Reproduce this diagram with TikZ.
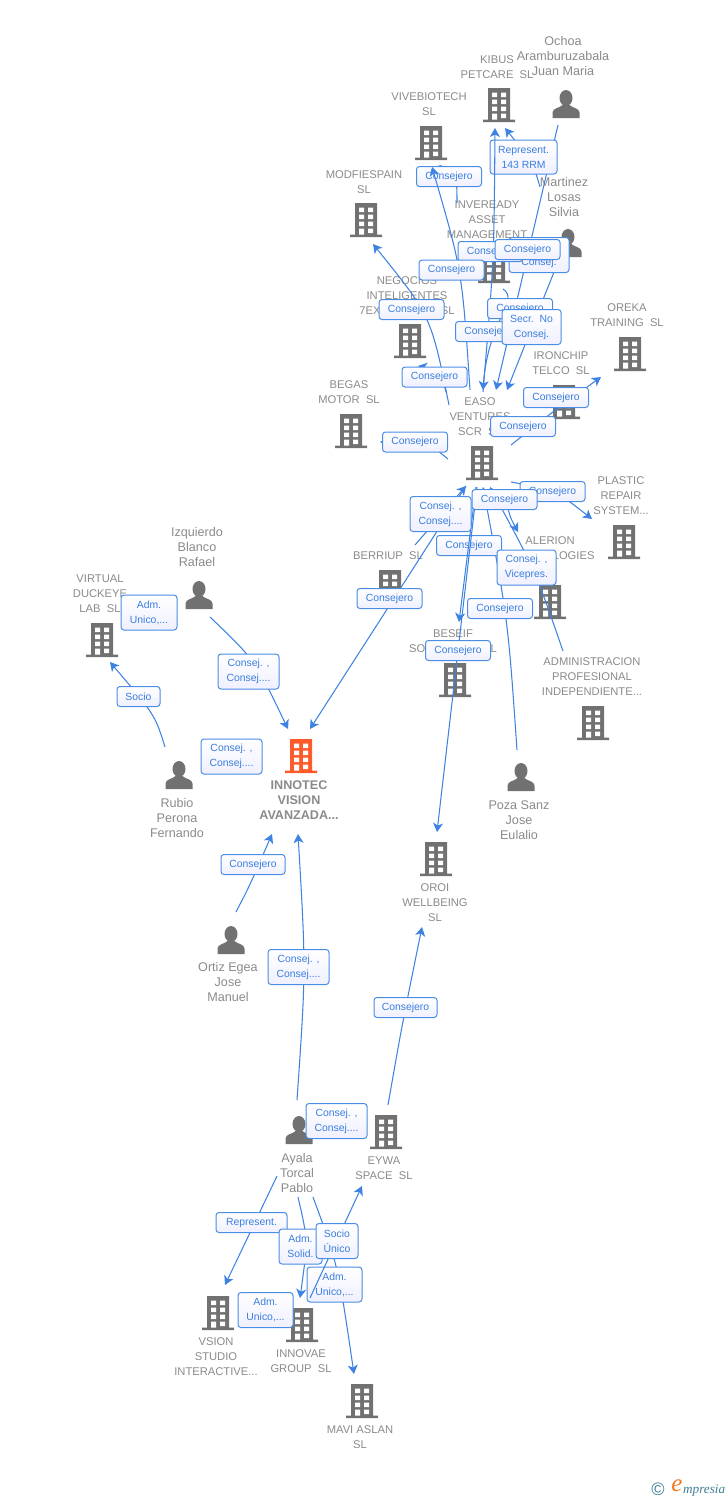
\documentclass[tikz,border=0pt]{standalone}
\usepackage{fontspec}
\setmainfont{Liberation Sans}
\newfontfamily\logofont{Liberation Serif}
\usetikzlibrary{arrows.meta,calc}
\pgfdeclarelayer{iconlayer}
\pgfdeclarelayer{edgelayer}
\pgfdeclarelayer{lowbox}
\pgfdeclarelayer{topedge}
\pgfsetlayers{iconlayer,edgelayer,lowbox,topedge,main}
\definecolor{icongray}{HTML}{717171}
\definecolor{iconorange}{HTML}{FF5A2A}
\definecolor{namegray}{HTML}{8A8A8A}
\definecolor{linkblue}{HTML}{3E82E2}
\definecolor{boxblue}{HTML}{4A8DE4}
\definecolor{boxtext}{HTML}{3A7EDE}
\definecolor{logoteal}{HTML}{3F7F93}
\definecolor{logoorange}{HTML}{F07A1E}
\tikzset{
  x=1pt,y=-1pt,
  bld/.style={minimum width=34,minimum height=36,inner sep=0,outer sep=0,path picture={
    \fill[#1] (-11,-17) rectangle (11,14.5) (-16,14.5) rectangle (16,17);
    \fill[white] (-7,-12.5) rectangle (-2,-8) (2,-12.5) rectangle (7,-8)
      (-7,-5.5) rectangle (-2,-1) (2,-5.5) rectangle (7,-1)
      (-7,1.5) rectangle (-2,6) (2,1.5) rectangle (7,6)
      (-7,8.5) rectangle (-2,14.5) (2,8.5) rectangle (7,13);
  }},
  bld/.default=icongray,
  psn/.style={minimum width=28,minimum height=28,inner sep=0,outer sep=0,path picture={
    \fill[icongray] (0,-6) ellipse (6.5 and 8);
    \fill[icongray] (-13.5,14) -- (-13.5,8.5) .. controls (-13.5,4) and (-6,4) .. (-3.5,1) -- (3.5,1)
      .. controls (6,4) and (13.5,4) .. (13.5,8.5) -- (13.5,14) -- cycle;
  }},
  nametext/.style={align=center,inner sep=0,text=namegray,font=\fontsize{11.2}{15}\selectfont},
  persontext/.style={nametext,font=\fontsize{12.6}{15}\selectfont},
  conn/.style={draw=linkblue,line width=1.05,-{Stealth[length=9,width=10,inset=2.5]}},
  plainconn/.style={draw=linkblue,line width=1.05},
  lbl/.style={draw=boxblue,line width=1,rounded corners=3,top color=white,bottom color=white!94!blue,
    text=boxtext,align=center,inner sep=0,minimum width=65,minimum height=20,
    font=\fontsize{10.4}{15}\selectfont},
  lbltwo/.style={lbl,minimum width=61,minimum height=35},
}
\begin{document}
\begin{tikzpicture}
\useasboundingbox (0,0) rectangle (728,1500);
\begin{pgfonlayer}{iconlayer}
% icons
\node[bld] (kibus) at (499,105) {};
\node[bld] (vive) at (431,143) {};
\node[bld] (modf) at (366,220) {};
\node[bld] (inve) at (494,266) {};
\node[bld] (nego) at (410,341) {};
\node[bld] (begas) at (351,431) {};
\node[bld] (easo) at (482,463) {};
\node[bld] (iron) at (564,402) {};
\node[bld] (oreka) at (630,354) {};
\node[bld] (plast) at (624,542) {};
\node[bld] (aler) at (550,602) {};
\node[bld] (berr) at (390,587) {};
\node[bld] (besf) at (455,680) {};
\node[bld] (admin) at (593,723) {};
\node[bld] (oroi) at (436,859) {};
\node[bld] (eywa) at (386,1132) {};
\node[bld] (vsion) at (218,1313) {};
\node[bld] (innov) at (302,1325) {};
\node[bld] (mavi) at (362,1401) {};
\node[bld] (virt) at (102,640) {};
\node[bld=iconorange] (innotec) at (301,756) {};
\node[psn] (ochoa) at (566,104) {};
\node[psn] (mart) at (568,243) {};
\node[psn] (izq) at (199,595) {};
\node[psn] (rubio) at (179,775) {};
\node[psn] (ortiz) at (231,940) {};
\node[psn] (poza) at (521,777) {};
\node[psn] (ayala) at (299,1130) {};
% names
\node[persontext] (ochoaT) at (563,56) {Ochoa\\Aramburuzabala\\Juan Maria};
\node[nametext] (kibusT) at (497,67.5) {KIBUS\\PETCARE\ \ SL};
\node[nametext] (viveT) at (429,104.5) {VIVEBIOTECH\\SL};
\node[nametext] (modfT) at (364,182.5) {MODFIESPAIN\\SL};
\node[persontext] (martT) at (564,197) {Martinez\\Losas\\Silvia};
\node[nametext] (inveT) at (487,220) {INVEREADY\\ASSET\\MANAGEMENT};
\node[nametext] (negoT) at (407,296) {NEGOCIOS\\INTELIGENTES\\7EXPONENTS\ \ SL};
\node[nametext] (orekaT) at (627,315.5) {OREKA\\TRAINING\ \ SL};
\node[nametext] (ironT) at (561,363.5) {IRONCHIP\\TELCO\ \ SL};
\node[nametext] (begasT) at (349,392.5) {BEGAS\\MOTOR\ \ SL};
\node[nametext] (easoT) at (480,417) {EASO\\VENTURES\\SCR\ \ SL};
\node[nametext] (plastT) at (621,496) {PLASTIC\\REPAIR\\SYSTEM...};
\node[nametext] (alerT) at (550,548.5) {ALERION\\TECHNOLOGIES};
\node[nametext] (berrT) at (388,556) {BERRIUP\ \ SL};
\node[nametext] (besfT) at (453,641.5) {BESEIF\\SOLUTIONS\ \ \ SL};
\node[nametext] (adminT) at (592,677) {ADMINISTRACION\\PROFESIONAL\\INDEPENDIENTE...};
\node[persontext] (izqT) at (197,547) {Izquierdo\\Blanco\\Rafael};
\node[nametext] (virtT) at (100,594) {VIRTUAL\\DUCKEYE\\LAB\ \ SL};
\node[persontext] (rubioT) at (177,818) {Rubio\\Perona\\Fernando};
\node[nametext,font=\fontsize{12.6}{15}\selectfont\bfseries] (innotecT) at (299,800) {INNOTEC\\VISION\\AVANZADA...};
\node[persontext] (pozaT) at (519,820) {Poza Sanz\\Jose\\Eulalio};
\node[nametext] (oroiT) at (435,903) {OROI\\WELLBEING\\SL};
\node[persontext] (ortizT) at (228,982) {Ortiz Egea\\Jose\\Manuel};
\node[persontext] (ayalaT) at (297,1173) {Ayala\\Torcal\\Pablo};
\node[nametext] (eywaT) at (384,1168.5) {EYWA\\SPACE\ \ SL};
\node[nametext] (vsionT) at (216,1357) {VSION\\STUDIO\\INTERACTIVE...};
\node[nametext] (innovT) at (301,1361.5) {INNOVAE\\GROUP\ \ SL};
\node[nametext] (maviT) at (360,1437.5) {MAVI ASLAN\\SL};
\node[inner sep=0,text=logoteal,font=\fontsize{18}{18}\selectfont] (logoC) at (658,1489) {©};
\node[inner sep=0,text=logoorange,font=\logofont\itshape\fontsize{25}{25}\selectfont] (logoE) at (677,1486) {e};
\node[inner sep=0,anchor=west,text=logoteal,font=\logofont\itshape\fontsize{13.2}{13}\selectfont] (logoM) at (683,1491) {mpresia};
\end{pgfonlayer}
\begin{pgfonlayer}{edgelayer}
\draw[conn] ($(inve)+(-37,-63)$) .. controls (457,175) .. ($(vive)+(1,24)$);
\draw[conn] ($(easo)+(-33,-58)$) .. controls (431,316) .. ($(modf)+(7,24)$);
\draw[conn] ($(easo)+(-36,-71)$) .. controls (440,370) .. ($(nego)+(8,25)$);
\draw[conn] ($(easo)+(-34,-4)$) .. controls (425,440) .. ($(begas)+(29,11)$);
\draw[conn] ($(easo)+(29,-18)$) .. controls (555,410) .. ($(oreka)+(-29,23)$);
\draw[conn] ($(inve)+(9,23)$) .. controls (520,300) and (488,320) .. ($(easo)+(1,-73)$);
\draw[conn] ($(ochoa)+(-8,21)$) -- ($(easo)+(14,-73)$);
\draw[conn] ($(mart)+(-12,24)$) -- ($(easo)+(25,-73)$);
\draw[conn] ($(mart)+(-28,-56)$) .. controls (533,163) .. ($(kibus)+(6,23)$);
\draw[conn] ($(poza)+(-4,-27)$) .. controls (508,620) .. ($(easo)+(1,24)$);
\draw[conn] ($(admin)+(-30,-72)$) .. controls (535,570) .. ($(easo)+(8,24)$);
\draw[conn] ($(easo)+(23,27)$) .. controls (509,515) .. ($(aler)+(-32,-70)$);
\draw[conn] ($(easo)+(29,19)$) .. controls (555,490) .. ($(plast)+(-32,-23)$);
\draw[conn] ($(berr)+(25,-42)$) -- ($(easo)+(-16,23)$);
\draw[plainconn] ($(berr)+(3,13)$) -- ($(easo)+(-16,23)$);
\draw[conn] ($(berr)+(3,13)$) -- ($(innotec)+(9,-27)$);
\draw[conn] ($(izq)+(11,22)$) .. controls (255,660) .. ($(innotec)+(-13,-27)$);
\draw[conn] ($(rubio)+(-14,-28)$) .. controls (155,715) .. ($(virt)+(8,22)$);
\draw[conn] ($(ortiz)+(5,-28)$) .. controls (250,885) .. ($(innotec)+(-29,78)$);
\draw[conn] ($(ayala)+(-2,-30)$) .. controls (306,970) .. ($(innotec)+(-3,78)$);
\draw[conn] ($(eywa)+(2,-27)$) .. controls (402,1025) .. ($(oroi)+(-14,68)$);
\draw[conn] ($(ayala)+(-22,46)$) -- ($(vsion)+(7,-28)$);
\draw[conn] ($(ayala)+(-1,67)$) .. controls (308,1240) .. ($(innov)+(-2,-27)$);
\draw[conn] ($(ayala)+(14,67)$) .. controls (338,1265) .. ($(mavi)+(-8,-27)$);
\end{pgfonlayer}
\begin{pgfonlayer}{lowbox}
\node[lbl,minimum width=67,minimum height=34] (l01) at (523.5,157) {Represent.\\143 RRM};
\node[lbl] (l02) at (449,176.5) {Consejero};
\node[lbl] (l18) at (469,545.5) {Consejero};
\node[lbltwo,minimum width=55] (l33) at (334.5,1284.5) {Adm.\\Unico,...};
\end{pgfonlayer}
\begin{pgfonlayer}{topedge}
\draw[conn] ($(easo)+(-12,-73)$) .. controls (462,270) .. ($(vive)+(1,24)$);
\draw[conn] ($(easo)+(1,-71)$) .. controls (494,260) .. ($(kibus)+(-4,23)$);
\draw[conn] ($(easo)+(-5,24)$) -- ($(oroi)+(1,-27)$);
\draw[conn] ($(easo)+(-6,24)$) -- ($(besf)+(4,-58)$);
\draw[conn] ($(innov)+(8,-27)$) -- ($(eywa)+(-24,54)$);
\end{pgfonlayer}
% labels, lowest first
\node[lbltwo,minimum width=60] (l03) at (539,255) {Consej. ,\\Consej.};
\node[lbl] (l04) at (490.5,251.5) {Consejero};
\node[lbl] (l05) at (527.5,249.5) {Consejero};
\node[lbl] (l06) at (451.5,270) {Consejero};
\node[lbl] (l07) at (520,308.5) {Consejero};
\node[lbl] (l08) at (411.5,309.5) {Consejero};
\node[lbl] (l09) at (488,331.5) {Consejero};
\node[lbltwo,minimum width=59] (l10) at (531.5,327) {Secr.\ \ No\\Consej.};
\node[lbl] (l11) at (434.5,377) {Consejero};
\node[lbl] (l12) at (556,397.5) {Consejero};
\node[lbl] (l13) at (523,426.5) {Consejero};
\node[lbl] (l14) at (415,442) {Consejero};
\node[lbl] (l15) at (552.5,491.5) {Consejero};
\node[lbl] (l16) at (504.5,499.5) {Consejero};
\node[lbltwo] (l17) at (440.5,514) {Consej. ,\\Consej....};
\node[lbltwo,minimum width=59] (l19) at (526.5,567.5) {Consej. ,\\Vicepres.};
\node[lbl] (l20) at (389.5,598.5) {Consejero};
\node[lbl] (l21) at (500,608.5) {Consejero};
\node[lbl] (l22) at (458,650.5) {Consejero};
\node[lbltwo,minimum width=56] (l23) at (149,612.5) {Adm.\\Unico,...};
\node[lbltwo] (l24) at (248.5,671.5) {Consej. ,\\Consej....};
\node[lbl,minimum width=43] (l25) at (138.5,696.5) {Socio};
\node[lbltwo] (l26) at (231.5,756.5) {Consej. ,\\Consej....};
\node[lbl,minimum width=64] (l27) at (253,864.5) {Consejero};
\node[lbltwo] (l28) at (298.5,967) {Consej. ,\\Consej....};
\node[lbl,minimum width=63] (l29) at (405.5,1007.5) {Consejero};
\node[lbltwo] (l30) at (336.5,1121) {Consej. ,\\Consej....};
\node[lbl,minimum width=71] (l31) at (251.5,1222.5) {Represent.};
\node[lbltwo,minimum width=43] (l32) at (300.5,1246.5) {Adm.\\Solid.};
\node[lbltwo,minimum width=42] (l34) at (337,1241) {Socio\\Único};
\node[lbltwo,minimum width=55] (l35) at (265.5,1310) {Adm.\\Unico,...};
\end{tikzpicture}
\end{document}
